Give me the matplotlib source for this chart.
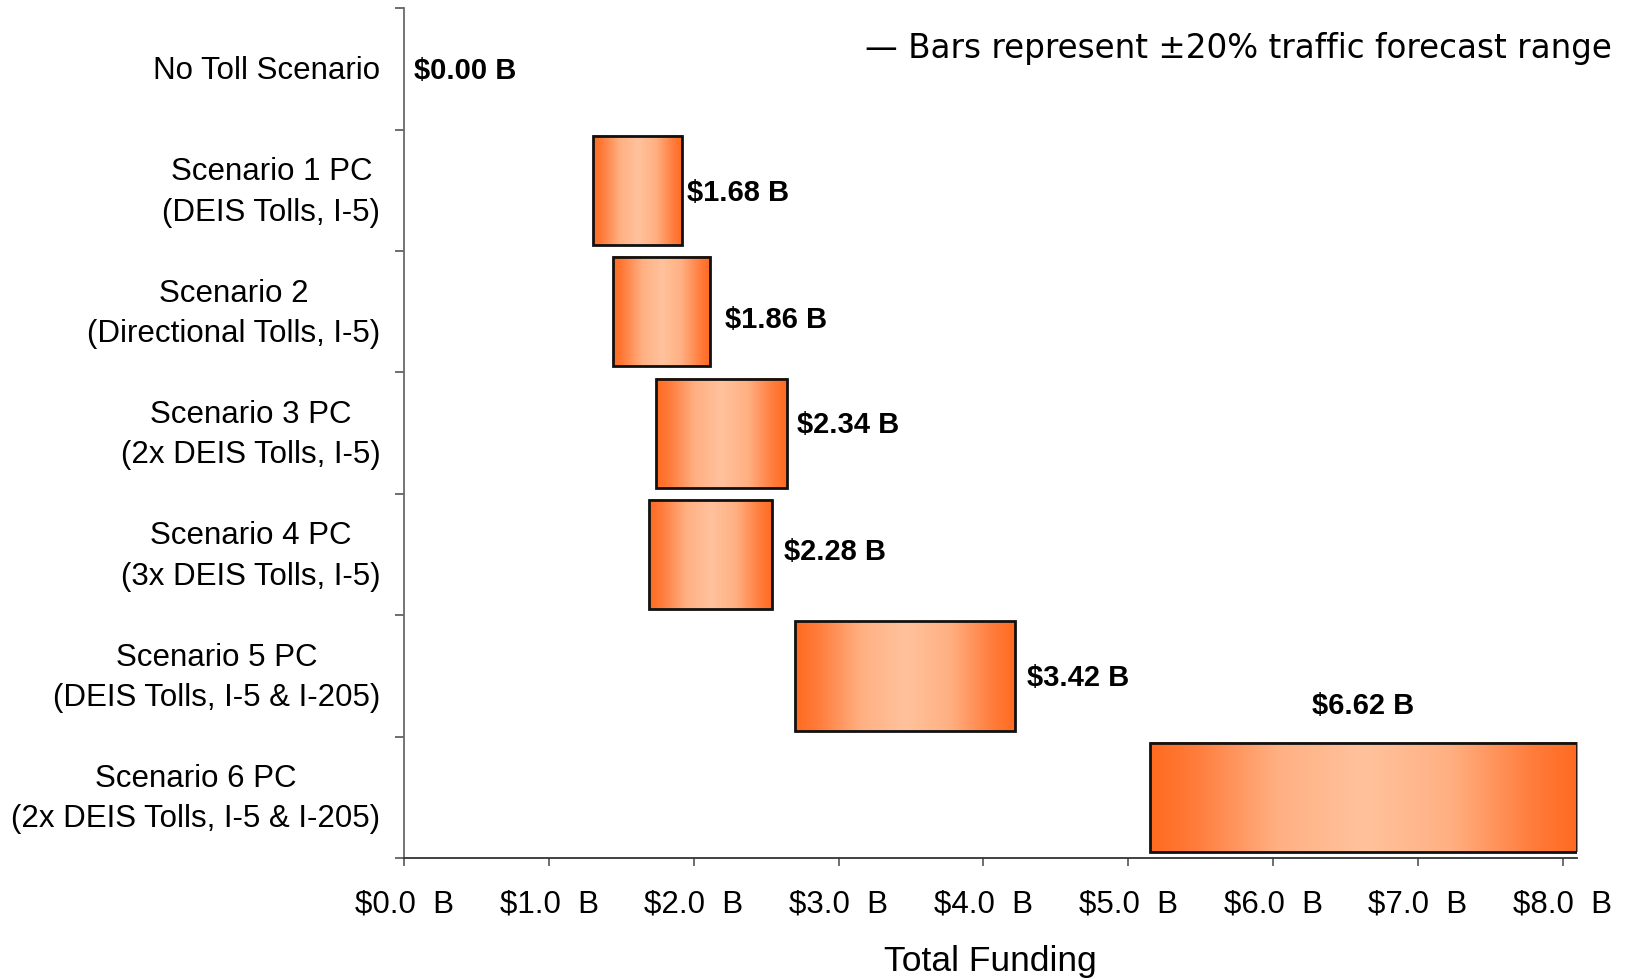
import numpy as np
import matplotlib
matplotlib.use("Agg")
import matplotlib.pyplot as plt
from matplotlib.colors import LinearSegmentedColormap
from matplotlib.patches import Rectangle

# ---- data ----
scenarios = [
    "No Toll Scenario",
    "Scenario 1 PC\n(DEIS Tolls, I-5)",
    "Scenario 2\n(Directional Tolls, I-5)",
    "Scenario 3 PC\n(2x DEIS Tolls, I-5)",
    "Scenario 4 PC\n(3x DEIS Tolls, I-5)",
    "Scenario 5 PC\n(DEIS Tolls, I-5 & I-205)",
    "Scenario 6 PC\n(2x DEIS Tolls, I-5 & I-205)",
]
funding = [0.00, 1.68, 1.86, 2.34, 2.28, 3.42, 6.62]      # $ billions
range_low = [0.00, 1.30, 1.44, 1.74, 1.69, 2.70, 5.15]    # -20% traffic
range_high = [0.00, 1.92, 2.11, 2.64, 2.54, 4.22, 8.10]   # +20% traffic
x_ticks = [0, 1, 2, 3, 4, 5, 6, 7, 8]
x_tick_labels = ["\\$%.1f  B" % t for t in x_ticks]
x_max = 8.1

# small nudges (pixels) for the value labels
label_dx = [10, 5, 15, 10, 12, 12, 0]
label_dy = [-2, -3, -8, 8, 3, -2, 0]

FONT = "Liberation Sans"
plt.rcParams["font.family"] = [FONT, "DejaVu Sans"]

fig = plt.figure(figsize=(16.27, 9.80), dpi=100)
ax = fig.add_axes([0.2485, 0.1245, 0.9693 - 0.2485, 0.9915 - 0.1245])

cmap = LinearSegmentedColormap.from_list(
    "bar_grad",
    [(0.00, "#FF6A1F"), (0.10, "#FF7B3A"), (0.30, "#FFB083"),
     (0.50, "#FFC29C"), (0.70, "#FFB083"), (0.90, "#FF7B3A"),
     (1.00, "#FF6A1F")],
)
grad = np.linspace(0, 1, 256).reshape(1, -1)

bar_h = 0.9
n = len(scenarios)
ypos = np.arange(n) + 0.5

for i, (lo, hi) in enumerate(zip(range_low, range_high)):
    if hi > lo:
        y0, y1 = ypos[i] - bar_h / 2, ypos[i] + bar_h / 2
        ax.imshow(grad, cmap=cmap, aspect="auto", extent=[lo, hi, y1, y0],
                  interpolation="bilinear", zorder=2)
        ax.add_patch(Rectangle((lo, y0), hi - lo, bar_h, fill=False,
                               edgecolor="#111111", linewidth=2.0, zorder=3))

# value labels
for i, v in enumerate(funding):
    txt = "\\$%.2f B" % v
    hi = range_high[i]
    if hi + 1.0 > x_max:
        ax.annotate(txt, xy=(v, ypos[i] - bar_h / 2), xytext=(0, 37),
                    textcoords="offset pixels", ha="center", va="center",
                    fontsize=21, fontweight="bold", color="black",
                    family=FONT, zorder=4)
    else:
        ax.annotate(txt, xy=(hi, ypos[i]),
                    xytext=(label_dx[i], label_dy[i]),
                    textcoords="offset pixels", ha="left", va="center",
                    fontsize=21, fontweight="bold", color="black",
                    family=FONT, zorder=4)

ax.set_xlim(0, x_max)
ax.set_ylim(n, 0)

# axes styling
for s in ("top", "right"):
    ax.spines[s].set_visible(False)
ax.spines["left"].set_color("#6a6a6a")
ax.spines["left"].set_linewidth(1.3)
ax.spines["bottom"].set_color("#333333")
ax.spines["bottom"].set_linewidth(1.3)

ax.set_xticks(x_ticks)
ax.set_xticklabels(x_tick_labels, fontsize=22.5, family=FONT)
ax.tick_params(axis="x", direction="out", length=6, width=1.2,
               color="#555555", pad=17)

# category boundaries carry the y ticks; names sit in the middle of each band
ax.set_yticks(np.arange(n + 1))
ax.set_yticklabels([])
ax.tick_params(axis="y", which="major", direction="out", length=6.5,
               width=1.2, color="#555555")
for i, name in enumerate(scenarios):
    ax.annotate(name, xy=(0, ypos[i]), xycoords=("axes fraction", "data"),
                xytext=(-24, -2), textcoords="offset pixels",
                ha="right", va="center", multialignment="center",
                linespacing=1.45, fontsize=22.5, family=FONT,
                annotation_clip=False)

ax.set_xlabel("Total Funding", fontsize=25.5, family=FONT, labelpad=18)

fig.text(0.9908, 0.9510, "\u2014 Bars represent \u00b120% traffic forecast range",
         ha="right", va="center", fontsize=23.5, family="DejaVu Sans",
         color="black")

fig.savefig("out.png", dpi=100, facecolor="white")
